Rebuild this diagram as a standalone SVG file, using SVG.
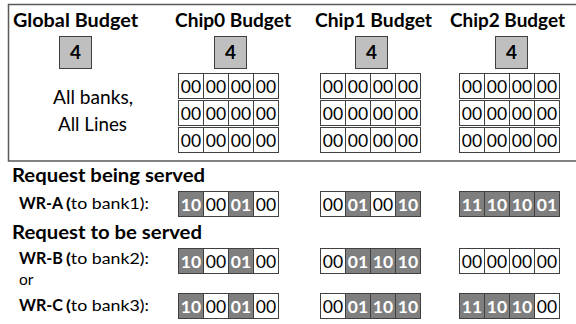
<svg xmlns="http://www.w3.org/2000/svg" width="576" height="324" viewBox="0 0 576 324">
  <defs>
    <style>
      .frame{fill:none;stroke:#595959;stroke-width:1.5}
      .hdr{font-family:Lato,"Open Sans","Liberation Sans",sans-serif;font-weight:700;font-size:19px;fill:#000}
      .lbl{font-family:Lato,"Open Sans","Liberation Sans",sans-serif;font-size:18.5px;fill:#000}
      .wr{font-family:Lato,"Open Sans","Liberation Sans",sans-serif;font-weight:700;font-size:17px;fill:#000}
      .to{font-family:Lato,"Open Sans","Liberation Sans",sans-serif;font-size:16px;fill:#000}
      .or{font-family:Lato,"Open Sans","Liberation Sans",sans-serif;font-size:15.5px;fill:#000}
      .bx{fill:#bfbfbf;stroke:#404040;stroke-width:1}
      .bt{font-family:Lato,"Open Sans","Liberation Sans",sans-serif;font-weight:700;font-size:19px;text-anchor:middle;fill:#000}
      .c{fill:#fff;stroke:#404040;stroke-width:1}
      .g{fill:#7f7f7f;stroke:#404040;stroke-width:1}
      .t0{font-family:Lato,"Open Sans","Liberation Sans",sans-serif;font-size:17.5px;text-anchor:middle;fill:#000}
      .t1{font-family:Lato,"Open Sans","Liberation Sans",sans-serif;font-weight:700;font-size:17.5px;text-anchor:middle;fill:#fff}
      .b{font-weight:700}
    </style>
    <!-- one row of four cleared (00) line counters -->
    <g id="row00">
      <rect class="c" x="0" y="0" width="25" height="25"/>
      <rect class="c" x="25" y="0" width="25" height="25"/>
      <rect class="c" x="50" y="0" width="25" height="25"/>
      <rect class="c" x="75" y="0" width="25" height="25"/>
      <text class="t0" x="12.5" y="19">00</text>
      <text class="t0" x="37.5" y="19">00</text>
      <text class="t0" x="62.5" y="19">00</text>
      <text class="t0" x="87.5" y="19">00</text>
    </g>
  </defs>

  <!-- budget panel -->
  <rect class="frame" x="8.5" y="4.5" width="600" height="156.5"/>

  <g id="global">
    <text class="hdr" x="13" y="27" textLength="125" lengthAdjust="spacingAndGlyphs">Global Budget</text>
    <rect class="bx" x="59.5" y="36.5" width="32" height="32"/>
    <text class="bt" x="75.5" y="59">4</text>
    <text class="lbl" x="53" y="104" textLength="80" lengthAdjust="spacingAndGlyphs">All banks,</text>
    <text class="lbl" x="58" y="131" textLength="69" lengthAdjust="spacingAndGlyphs">All Lines</text>
  </g>

  <g id="chip0">
    <text class="hdr" x="175" y="27" textLength="116" lengthAdjust="spacingAndGlyphs">Chip0 Budget</text>
    <rect class="bx" x="214.5" y="36.5" width="32" height="32"/>
    <text class="bt" x="230.5" y="59">4</text>
    <use href="#row00" x="178.5" y="73.5"/>
    <use href="#row00" x="178.5" y="100.5"/>
    <use href="#row00" x="178.5" y="127.5"/>
  </g>

  <g id="chip1">
    <text class="hdr" x="315" y="27" textLength="117" lengthAdjust="spacingAndGlyphs">Chip1 Budget</text>
    <rect class="bx" x="355.5" y="36.5" width="32" height="32"/>
    <text class="bt" x="371.5" y="59">4</text>
    <use href="#row00" x="320.5" y="73.5"/>
    <use href="#row00" x="320.5" y="100.5"/>
    <use href="#row00" x="320.5" y="127.5"/>
  </g>

  <g id="chip2">
    <text class="hdr" x="450" y="27" textLength="115" lengthAdjust="spacingAndGlyphs">Chip2 Budget</text>
    <rect class="bx" x="495.5" y="36.5" width="32" height="32"/>
    <text class="bt" x="511.5" y="59">4</text>
    <use href="#row00" x="459.5" y="73.5"/>
    <use href="#row00" x="459.5" y="100.5"/>
    <use href="#row00" x="459.5" y="127.5"/>
  </g>

  <!-- requests -->
  <text class="hdr" x="12" y="182" textLength="193" lengthAdjust="spacingAndGlyphs">Request being served</text>
  <text class="hdr" x="12" y="239" textLength="190" lengthAdjust="spacingAndGlyphs">Request to be served</text>

  <g id="wr-a">
    <text class="wr" x="19" y="209" textLength="44" lengthAdjust="spacingAndGlyphs">WR-A</text>
    <text class="to" x="66" y="209" textLength="83" lengthAdjust="spacingAndGlyphs"><tspan class="b">(</tspan>to bank1):</text>
    <!-- chip0 -->
    <rect class="g" x="178.5" y="191.5" width="25" height="25"/>
    <rect class="c" x="203.5" y="191.5" width="25" height="25"/>
    <rect class="g" x="228.5" y="191.5" width="25" height="25"/>
    <rect class="c" x="253.5" y="191.5" width="25" height="25"/>
    <text class="t1" x="191" y="210.5">10</text>
    <text class="t0" x="216" y="210.5">00</text>
    <text class="t1" x="241" y="210.5">01</text>
    <text class="t0" x="266" y="210.5">00</text>
    <!-- chip1 -->
    <rect class="c" x="320.5" y="191.5" width="25" height="25"/>
    <rect class="g" x="345.5" y="191.5" width="25" height="25"/>
    <rect class="c" x="370.5" y="191.5" width="25" height="25"/>
    <rect class="g" x="395.5" y="191.5" width="25" height="25"/>
    <text class="t0" x="333" y="210.5">00</text>
    <text class="t1" x="358" y="210.5">01</text>
    <text class="t0" x="383" y="210.5">00</text>
    <text class="t1" x="408" y="210.5">10</text>
    <!-- chip2 -->
    <rect class="g" x="459.5" y="191.5" width="25" height="25"/>
    <rect class="g" x="484.5" y="191.5" width="25" height="25"/>
    <rect class="g" x="509.5" y="191.5" width="25" height="25"/>
    <rect class="g" x="534.5" y="191.5" width="25" height="25"/>
    <text class="t1" x="472" y="210.5">11</text>
    <text class="t1" x="497" y="210.5">10</text>
    <text class="t1" x="522" y="210.5">10</text>
    <text class="t1" x="547" y="210.5">01</text>
  </g>

  <g id="wr-b">
    <text class="wr" x="19" y="264" textLength="44" lengthAdjust="spacingAndGlyphs">WR-B</text>
    <text class="to" x="66" y="264" textLength="83" lengthAdjust="spacingAndGlyphs"><tspan class="b">(</tspan>to bank2):</text>
    <!-- chip0 -->
    <rect class="g" x="178.5" y="248.5" width="25" height="25"/>
    <rect class="c" x="203.5" y="248.5" width="25" height="25"/>
    <rect class="g" x="228.5" y="248.5" width="25" height="25"/>
    <rect class="c" x="253.5" y="248.5" width="25" height="25"/>
    <text class="t1" x="191" y="267.5">10</text>
    <text class="t0" x="216" y="267.5">00</text>
    <text class="t1" x="241" y="267.5">01</text>
    <text class="t0" x="266" y="267.5">00</text>
    <!-- chip1 -->
    <rect class="c" x="320.5" y="248.5" width="25" height="25"/>
    <rect class="g" x="345.5" y="248.5" width="25" height="25"/>
    <rect class="g" x="370.5" y="248.5" width="25" height="25"/>
    <rect class="g" x="395.5" y="248.5" width="25" height="25"/>
    <text class="t0" x="333" y="267.5">00</text>
    <text class="t1" x="358" y="267.5">01</text>
    <text class="t1" x="383" y="267.5">10</text>
    <text class="t1" x="408" y="267.5">10</text>
    <!-- chip2 -->
    <use href="#row00" x="459.5" y="248.5"/>
  </g>

  <text class="or" x="19" y="285">or</text>

  <g id="wr-c">
    <text class="wr" x="19" y="311" textLength="44" lengthAdjust="spacingAndGlyphs">WR-C</text>
    <text class="to" x="66" y="311" textLength="83" lengthAdjust="spacingAndGlyphs"><tspan class="b">(</tspan>to bank3):</text>
    <!-- chip0 -->
    <rect class="g" x="178.5" y="293.5" width="25" height="25"/>
    <rect class="c" x="203.5" y="293.5" width="25" height="25"/>
    <rect class="g" x="228.5" y="293.5" width="25" height="25"/>
    <rect class="c" x="253.5" y="293.5" width="25" height="25"/>
    <text class="t1" x="191" y="312.5">10</text>
    <text class="t0" x="216" y="312.5">00</text>
    <text class="t1" x="241" y="312.5">01</text>
    <text class="t0" x="266" y="312.5">00</text>
    <!-- chip1 -->
    <rect class="c" x="320.5" y="293.5" width="25" height="25"/>
    <rect class="g" x="345.5" y="293.5" width="25" height="25"/>
    <rect class="g" x="370.5" y="293.5" width="25" height="25"/>
    <rect class="g" x="395.5" y="293.5" width="25" height="25"/>
    <text class="t0" x="333" y="312.5">00</text>
    <text class="t1" x="358" y="312.5">01</text>
    <text class="t1" x="383" y="312.5">10</text>
    <text class="t1" x="408" y="312.5">10</text>
    <!-- chip2 -->
    <rect class="g" x="459.5" y="293.5" width="25" height="25"/>
    <rect class="g" x="484.5" y="293.5" width="25" height="25"/>
    <rect class="g" x="509.5" y="293.5" width="25" height="25"/>
    <rect class="c" x="534.5" y="293.5" width="25" height="25"/>
    <text class="t1" x="472" y="312.5">11</text>
    <text class="t1" x="497" y="312.5">10</text>
    <text class="t1" x="522" y="312.5">10</text>
    <text class="t0" x="547" y="312.5">00</text>
  </g>
</svg>
